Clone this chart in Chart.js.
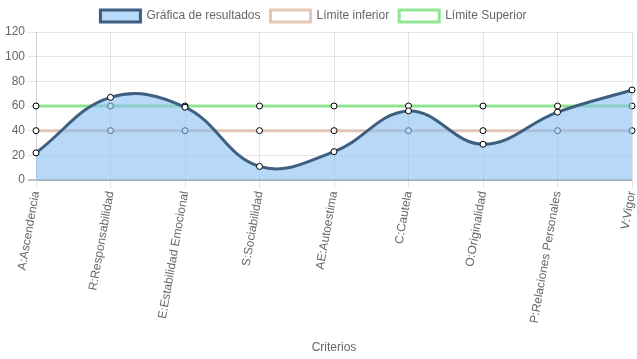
<!DOCTYPE html>
<html><head><meta charset="utf-8">
<script src="https://cdn.jsdelivr.net/npm/chart.js@4/dist/chart.umd.min.js"></script>
<style>html,body{margin:0;padding:0;background:#fff}#w{width:637px;height:359px}</style>
</head><body><div id="w"><canvas id="c"></canvas></div>
<script>
const categories = ["A:Ascendencia","R:Responsabilidad","E:Estabilidad Emocional","S:Sociabilidad","AE:Autoestima","C:Cautela","O:Originalidad","P:Relaciones Personales","V:Vigor"];
const resultados = [22, 67, 59, 11, 23, 56, 29, 55, 73];
const limiteInferior = [40, 40, 40, 40, 40, 40, 40, 40, 40];
const limiteSuperior = [60, 60, 60, 60, 60, 60, 60, 60, 60];
const yTicks = [0, 20, 40, 60, 80, 100, 120];

Chart.defaults.color = '#666';
Chart.defaults.font.family = "'Liberation Sans', Arial, Helvetica, sans-serif";
Chart.defaults.font.size = 12;

const legendShift = {
  id: 'legendShift',
  beforeInit(chart) {
    const orig = chart.legend ? null : null;
  },
  afterLayout(chart) {
    const lg = chart.legend;
    if (lg && !lg._shifted) {
      const orig = lg.draw;
      lg.draw = function () {
        const ctx = this.ctx;
        ctx.save(); ctx.translate(-5, 0);
        orig.apply(this, arguments);
        ctx.restore();
      };
      lg._shifted = true;
    }
  }
};

const pt = {pointRadius: 3, pointBackgroundColor: '#fff', pointBorderColor: '#000', pointBorderWidth: 1};
new Chart(document.getElementById('c'), {
  type: 'line',
  plugins: [legendShift],
  data: {
    labels: categories,
    datasets: [
      Object.assign({label: 'Gráfica de resultados', data: resultados, borderColor: '#3e5f80', backgroundColor: 'rgba(135,190,240,0.6)', borderWidth: 3, fill: 'origin', tension: 0.4}, pt),
      Object.assign({label: 'Límite inferior', data: limiteInferior, borderColor: 'rgba(220,180,160,0.75)', backgroundColor: 'rgba(255,255,255,0)', borderWidth: 3, fill: false}, pt),
      Object.assign({label: 'Límite Superior', data: limiteSuperior, borderColor: 'rgba(110,220,110,0.75)', backgroundColor: 'rgba(255,255,255,0)', borderWidth: 3, fill: false}, pt)
    ]
  },
  options: {
    responsive: true, maintainAspectRatio: false, animation: false,
    layout: {padding: 0},
    plugins: {
      legend: {labels: {boxWidth: 40, boxHeight: 12, padding: 10}},
      tooltip: {enabled: false}
    },
    scales: {
      x: {
        grid: {color: 'rgba(0,0,0,0.1)'},
        ticks: {minRotation: 80, maxRotation: 80, autoSkip: false, padding: 2},
        title: {display: true, text: 'Criterios', padding: {top: 4, bottom: 4}},
        afterFit: (s) => { s.height = 179; s.paddingRight = 4; s.paddingLeft = 0; }
      },
      y: {
        min: 0, max: 120,
        afterBuildTicks: (s) => { s.ticks = yTicks.map(v => ({value: v})); },
        afterFit: (s) => { s.width = 36; },
        grid: {color: (ctx) => ctx.tick && ctx.tick.value === 0 ? 'rgba(0,0,0,0.25)' : 'rgba(0,0,0,0.1)', lineWidth: (ctx) => ctx.tick && ctx.tick.value === 0 ? 2 : 1}
      }
    }
  }
});
</script></body></html>
